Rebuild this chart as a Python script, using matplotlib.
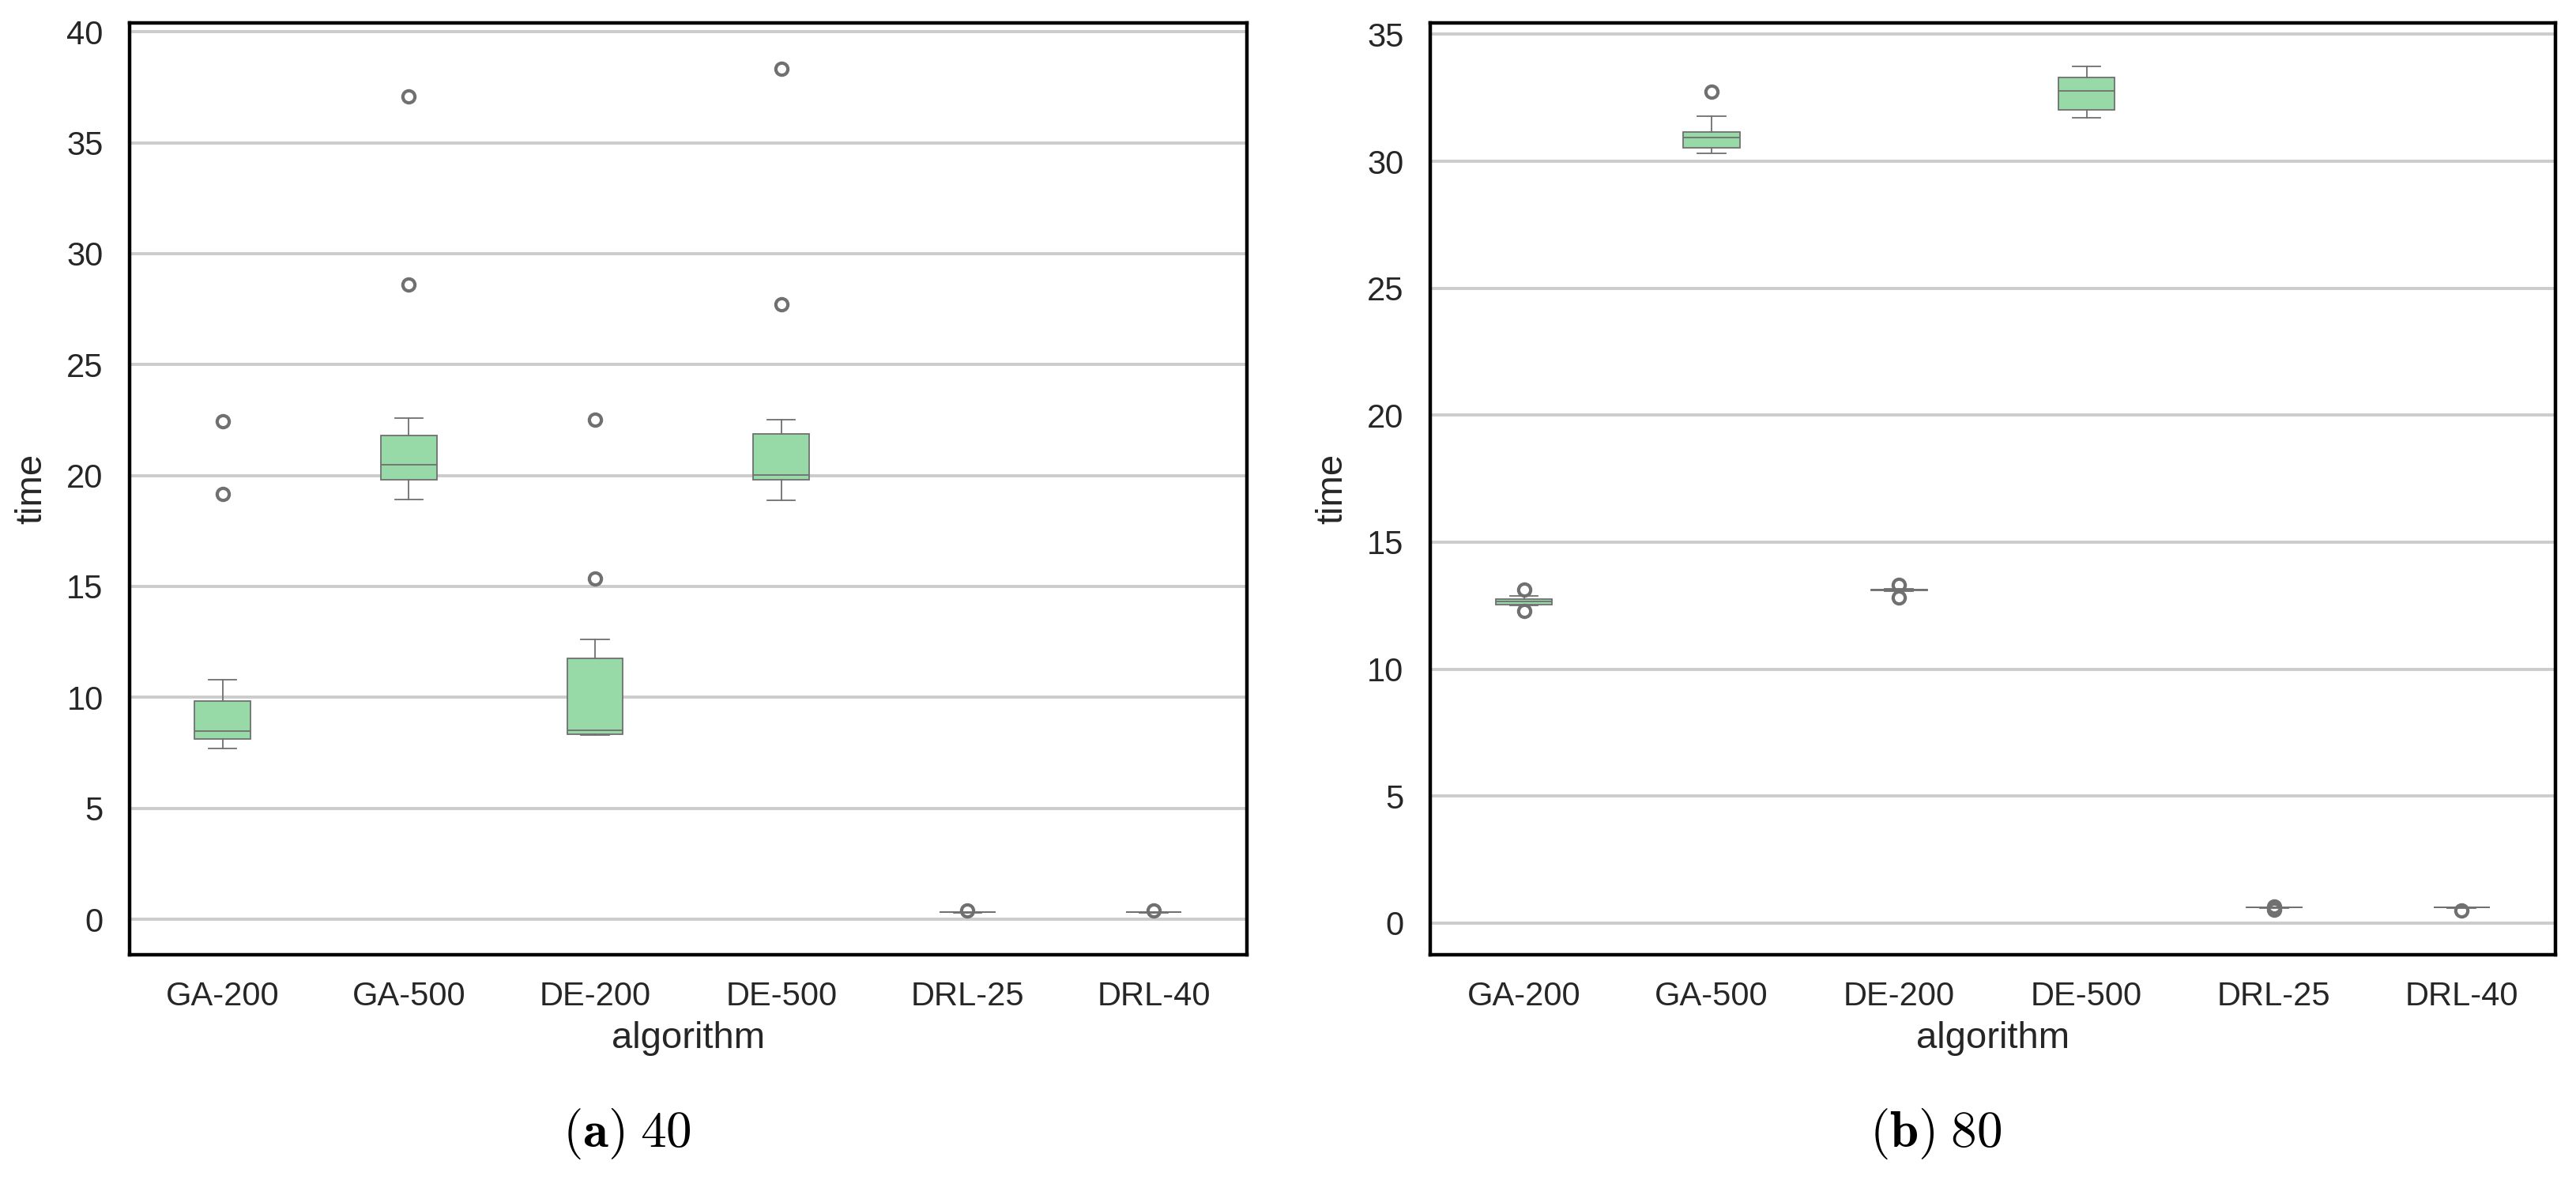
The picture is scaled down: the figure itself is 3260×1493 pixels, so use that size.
import matplotlib
matplotlib.use("Agg")
import matplotlib.pyplot as plt

plt.rcParams["font.family"] = ["Liberation Sans", "DejaVu Sans"]
plt.rcParams["mathtext.fontset"] = "cm"

algorithms = ["GA-200", "GA-500", "DE-200", "DE-500", "DRL-25", "DRL-40"]

# (a) 40 -- box statistics
a_whislo = [7.68, 18.92, 8.30, 18.89, 0.30, 0.30]
a_q1 = [8.14, 19.80, 8.35, 19.80, 0.31, 0.31]
a_med = [8.48, 20.47, 8.52, 20.04, 0.32, 0.32]
a_q3 = [9.84, 21.80, 11.76, 21.88, 0.33, 0.33]
a_whishi = [10.80, 22.60, 12.63, 22.52, 0.34, 0.34]
a_fliers = [[22.45, 19.15], [37.1, 28.6], [22.5, 15.35], [38.34, 27.7], [0.40], [0.40]]

# (b) 80
b_whislo = [12.50, 30.31, 13.08, 31.71, 0.60, 0.60]
b_q1 = [12.55, 30.52, 13.10, 32.04, 0.61, 0.61]
b_med = [12.66, 30.92, 13.12, 32.76, 0.61, 0.61]
b_q3 = [12.77, 31.15, 13.14, 33.30, 0.62, 0.62]
b_whishi = [12.88, 31.79, 13.16, 33.74, 0.62, 0.62]
b_fliers = [[13.12, 12.30], [32.73], [13.33, 12.82], [], [0.66, 0.52], [0.48]]

box_color = "#98d9a8"
line_color = "#707070"


def make_stats(lo, q1, med, q3, hi, fl):
    stats = []
    for i in range(len(algorithms)):
        stats.append({"label": algorithms[i], "whislo": lo[i], "q1": q1[i], "med": med[i],
                      "q3": q3[i], "whishi": hi[i], "fliers": fl[i]})
    return stats


def draw_panel(ax, stats, ylim):
    line = dict(color=line_color, linewidth=0.65)
    ax.bxp(stats, positions=range(len(stats)), widths=0.3, patch_artist=True,
           boxprops=dict(facecolor=box_color, edgecolor=line_color, linewidth=0.65),
           medianprops=line, whiskerprops=line, capprops=line,
           flierprops=dict(marker="o", markerfacecolor="none", markeredgecolor=line_color,
                           markersize=5.5, markeredgewidth=1.5),
           capwidths=0.15)
    ax.set_xlim(-0.5, len(stats) - 0.5)
    ax.set_ylim(*ylim)
    ax.set_xticks(range(len(stats)))
    ax.set_xticklabels(algorithms)
    ax.yaxis.grid(True, color="#cccccc", linewidth=1.4)
    ax.set_axisbelow(True)
    ax.tick_params(length=0, labelsize=15, colors="#262626", pad=12)
    for s in ax.spines.values():
        s.set_color("black")
        s.set_linewidth(1.6)
    ax.set_xlabel("algorithm", fontsize=17, color="#262626", labelpad=4)
    ax.set_ylabel("time", fontsize=17, color="#262626", labelpad=8)


fig = plt.figure(figsize=(16.3, 7.465), dpi=200)
ax1 = fig.add_axes([0.0503, 0.1909, 0.4337, 0.7897])
ax2 = fig.add_axes([0.5552, 0.1909, 0.4368, 0.7897])

draw_panel(ax1, make_stats(a_whislo, a_q1, a_med, a_q3, a_whishi, a_fliers), (-1.6, 40.4))
ax1.set_yticks(range(0, 41, 5))
draw_panel(ax2, make_stats(b_whislo, b_q1, b_med, b_q3, b_whishi, b_fliers), (-1.25, 35.45))
ax2.set_yticks(range(0, 36, 5))

fig.text(0.2433, 0.039, r"$\mathbf{(a)}\;\mathrm{40}$", fontsize=23.5, ha="center", va="center")
fig.text(0.7515, 0.039, r"$\mathbf{(b)}\;\mathrm{80}$", fontsize=23.5, ha="center", va="center")

fig.savefig("out.png", dpi=200)
